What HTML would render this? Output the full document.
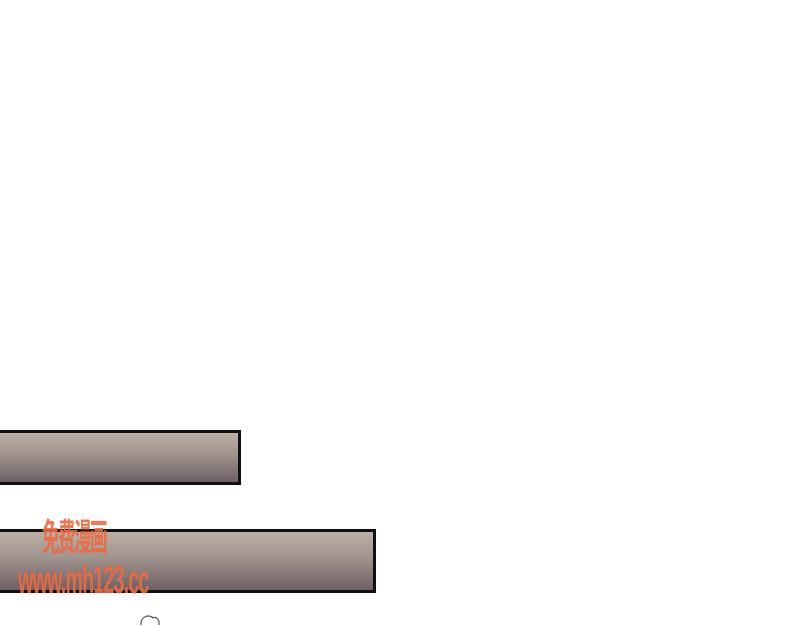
<!DOCTYPE html>
<html><head><meta charset="utf-8"><style>
body{margin:0;width:800px;height:625px;background:#fff;position:relative;overflow:hidden;font-family:"Liberation Sans","Noto Sans CJK SC",sans-serif}
.bar{position:absolute;left:-3px;border:3px solid #111;background:linear-gradient(#bcb0a8,#a0928c 45%,#6c6064);box-sizing:border-box}
.wm{position:absolute;color:#ee6a40;opacity:.9;font-weight:bold;white-space:nowrap}
</style></head><body>
<div class="bar" style="top:430px;width:244px;height:55px"></div>
<div class="bar" style="top:529px;width:379px;height:64px"></div>
<div class="wm" style="left:42px;top:508px;font-size:22px;transform:scale(0.8,1.7);transform-origin:top left;letter-spacing:-2px">免费漫画</div>
<div class="wm" style="left:18px;top:558px;font-size:22px;transform:scale(0.9,1.75);transform-origin:top left;letter-spacing:-1px">www.mh123.cc</div>
<svg style="position:absolute;left:138px;top:612px" width="60" height="14"><path d="M3 13 C2 4 12 2 15 6 C18 4 22 8 21 13" fill="none" stroke="#555" stroke-width="1.2"/></svg>
</body></html>
